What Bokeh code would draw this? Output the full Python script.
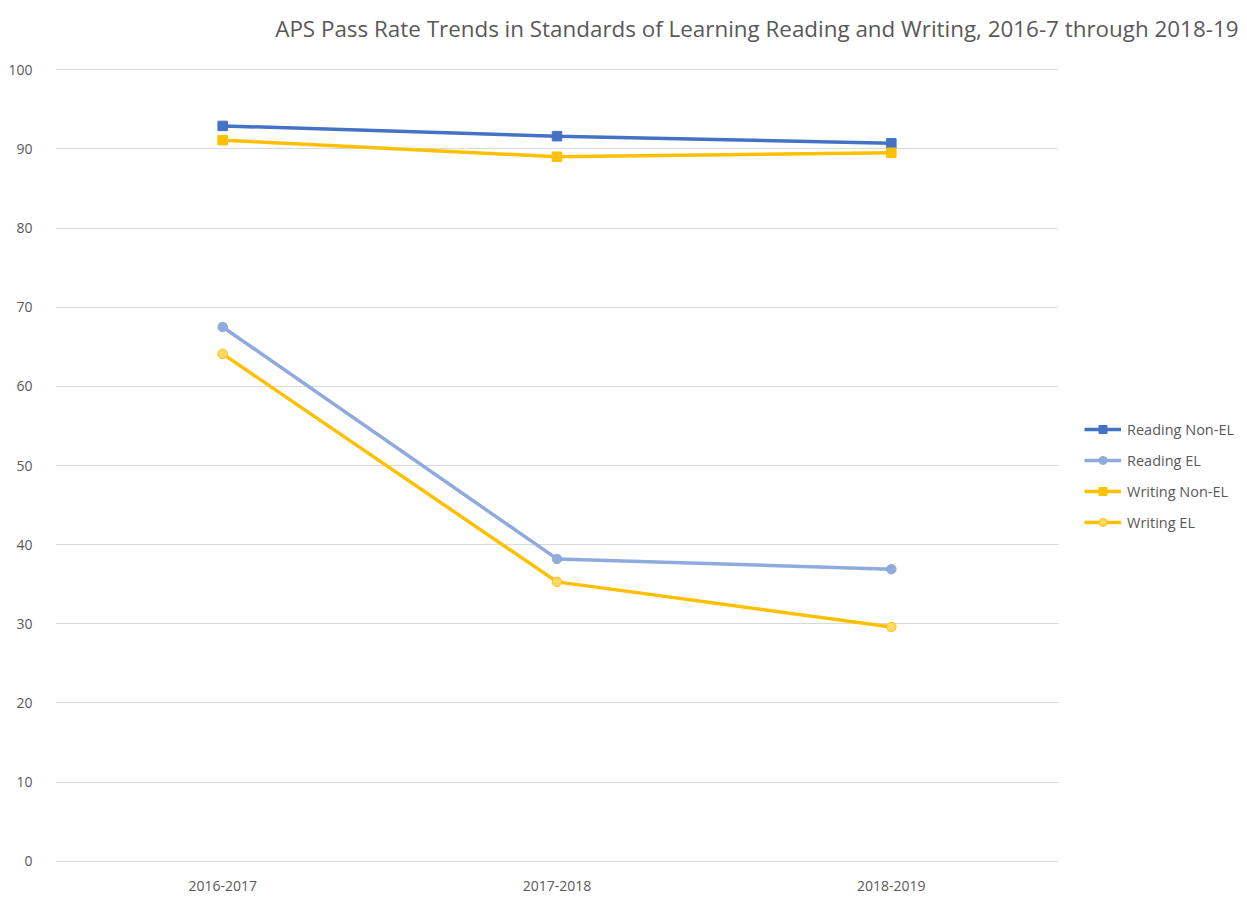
from bokeh.plotting import figure
from bokeh.models import Range1d, FactorRange, Legend, LegendItem, SingleIntervalTicker, ColumnDataSource, Label
from bokeh.embed import file_html
from bokeh.resources import INLINE

years = ["2016-2017", "2017-2018", "2018-2019"]
reading_non_el = [92.9, 91.6, 90.7]
reading_el = [67.5, 38.2, 36.9]
writing_non_el = [91.1, 89.0, 89.5]
writing_el = [64.1, 35.3, 29.6]
title_text = "APS Pass Rate Trends in Standards of Learning Reading and Writing, 2016-7 through 2018-19"

FONT = "Open Sans"
GREY = "#595959"

p = figure(frame_width=1003, frame_height=794,
           x_range=FactorRange(*years, range_padding=0, factor_padding=0),
           y_range=Range1d(-0.15, 100.15), output_backend="svg", toolbar_location=None,
           min_border_left=55, min_border_right=189, min_border_top=68, min_border_bottom=42)

p.outline_line_color = None
p.xgrid.grid_line_color = None
p.ygrid.grid_line_color = "#d9d9d9"
p.ygrid.grid_line_width = 1
p.yaxis.ticker = SingleIntervalTicker(interval=10)
for ax in (p.xaxis[0], p.yaxis[0]):
    ax.axis_line_color = None
    ax.major_tick_line_color = None
    ax.minor_tick_line_color = None
    ax.major_label_text_font = FONT
    ax.major_label_text_font_size = "14px"
    ax.major_label_text_color = GREY
p.yaxis.major_label_standoff = 17
p.xaxis.major_label_standoff = 12

series = [
    ("Reading Non-EL", reading_non_el, "#4472C4", "square", "#4472C4", "#4472C4"),
    ("Reading EL", reading_el, "#8FAADC", "circle", "#8FAADC", "#8FAADC"),
    ("Writing Non-EL", writing_non_el, "#FFC000", "square", "#FFC000", "#FFC000"),
    ("Writing EL", writing_el, "#FFC000", "circle", "#FFD966", "#FFC000"),
]
items = []
for name, vals, col, marker, fill, edge in series:
    src = ColumnDataSource(dict(x=years, y=vals))
    l = p.line("x", "y", source=src, line_color=col, line_width=3.5)
    s = p.scatter("x", "y", source=src, marker=marker, size=9.5, fill_color=fill, line_color=edge, line_width=1)
    items.append(LegendItem(label=name, renderers=[l, s]))

legend = Legend(items=items, location=(26, 330), orientation="vertical",
                label_text_font=FONT, label_text_font_size="14.5px", label_text_color=GREY,
                glyph_width=37, glyph_height=20, label_height=20, spacing=11,
                padding=5, margin=0, border_line_color=None, background_fill_alpha=0,
                label_standoff=6)
p.add_layout(legend, "right")

title = Label(x=1183, y=40, x_units="screen", y_units="screen", text=title_text,
              text_font=FONT, text_font_size="22.4px", text_color=GREY,
              text_align="right", text_baseline="middle")
p.add_layout(title, "above")

open("out.html", "w").write(file_html(p, INLINE))
